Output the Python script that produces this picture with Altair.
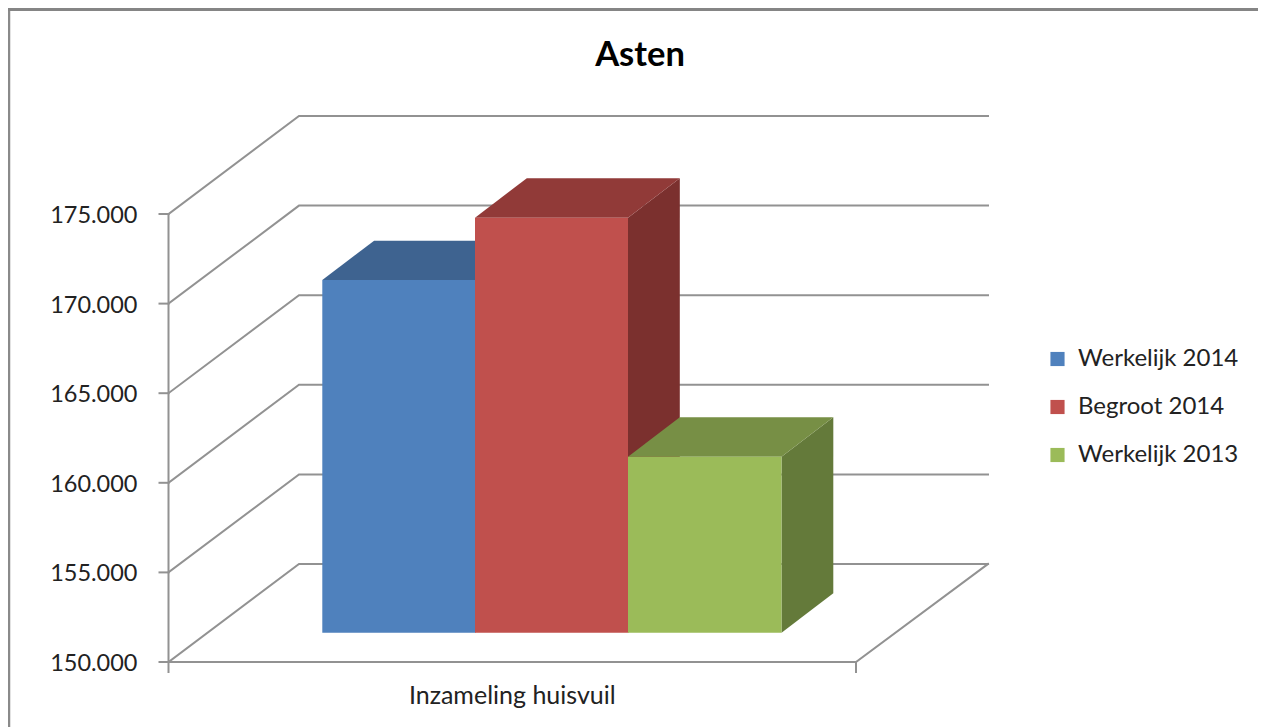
import altair as alt
import pandas as pd

# --- chart values ---
series = ["Werkelijk 2014", "Begroot 2014", "Werkelijk 2013"]
values = [169680, 173160, 159820]
colors_front = ["#4F81BD", "#C0504D", "#9BBB59"]
colors_top = ["#3E6390", "#913A38", "#778F45"]
colors_side = ["#34547A", "#7B302E", "#647A3A"]
tick_values = [150000, 155000, 160000, 165000, 170000, 175000]
tick_labels = ["150.000", "155.000", "160.000", "165.000", "170.000", "175.000"]
category = "Inzameling huisvuil"
title = "Asten"

# --- pseudo-3D projection, in data units ---
W, H = 1250, 719
PX_X, PX_Y = 687.5, 17.92 / 1000
X0, Y0 = 168.5, 662.0
x_dom = [(8 - X0) / PX_X, (8 + W - X0) / PX_X]
y_dom = [150000 - (8 + H - Y0) / PX_Y, 150000 + (Y0 - 8) / PX_Y]
wall_dx, wall_dy = 130.5 / PX_X, 98 / PX_Y
wall_end = (988 - X0) / PX_X
bar_edges = [(322.3 - X0) / PX_X, (475 - X0) / PX_X, (628 - X0) / PX_X, (781.5 - X0) / PX_X]
base_shift = 29.3 / PX_Y
bar_dx, bar_dy = 51.8 / PX_X, 39.4 / PX_Y
tick_len_x, tick_len_y = 9 / PX_X, 10 / PX_Y
FONT = "Lato"

xs = alt.Scale(domain=x_dom, nice=False, zero=False)
ys = alt.Scale(domain=y_dom, nice=False, zero=False)
X = lambda f="x": alt.X(f"{f}:Q", scale=xs, axis=None, title=None)
Y = lambda f="y": alt.Y(f"{f}:Q", scale=ys, axis=None, title=None)

# --- gridlines, floor and ticks ---
segs = []
def seg(name, pts):
    for i, (a, b) in enumerate(pts):
        segs.append({"id": name, "i": i, "x": a, "y": b})

for v in tick_values:
    seg(f"g{v}", [(0, v), (wall_dx, v + wall_dy), (wall_end, v + wall_dy)])
    seg(f"t{v}", [(-tick_len_x, v), (0, v)])
seg("axis", [(0, tick_values[0]), (0, tick_values[-1])])
seg("floor", [(0, tick_values[0]), (1, tick_values[0]), (wall_end, tick_values[0] + wall_dy)])
seg("b0", [(0, tick_values[0]), (0, tick_values[0] - tick_len_y)])
seg("b1", [(1, tick_values[0]), (1, tick_values[0] - tick_len_y)])

grid = alt.Chart(pd.DataFrame(segs)).mark_line(
    color="#929292", strokeWidth=2, strokeCap="square"
).encode(x=X(), y=Y(), detail="id:N", order="i:Q")

frame_l = alt.Chart(pd.DataFrame({"a": [0]})).mark_rule(color="#8A8A8A", strokeWidth=2.5).encode(
    x=alt.value(1), y=alt.value(0), y2=alt.value(H))
frame_t = alt.Chart(pd.DataFrame({"a": [0]})).mark_rule(color="#858585", strokeWidth=3).encode(
    y=alt.value(1.5), x=alt.value(0), x2=alt.value(W))

# --- bars ---
layers = [frame_l, frame_t, grid]
for i, (s, v) in enumerate(zip(series, values)):
    l, r = bar_edges[i], bar_edges[i + 1]
    base = tick_values[0] + base_shift
    top = v + base_shift
    top_face = pd.DataFrame({
        "x": [l, l + bar_dx, r, r + bar_dx],
        "y": [top, top + bar_dy, top + bar_dy, top + bar_dy],
        "y2": [top, top, top, top + bar_dy],
    })
    side_face = pd.DataFrame({
        "x": [r, r + bar_dx],
        "y": [top, top + bar_dy],
        "y2": [base, base + bar_dy],
    })
    front = pd.DataFrame({"x": [l], "x2": [r], "y": [base], "y2": [top], "serie": [s]})
    layers.append(alt.Chart(side_face).mark_area(color=colors_side[i], interpolate="linear").encode(
        x=X(), y=Y(), y2="y2:Q"))
    layers.append(alt.Chart(top_face).mark_area(color=colors_top[i], interpolate="linear").encode(
        x=X(), y=Y(), y2="y2:Q"))
    layers.append(alt.Chart(front).mark_rect().encode(
        x=X(), x2="x2:Q", y=Y(), y2="y2:Q",
        color=alt.Color("serie:N",
            scale=alt.Scale(domain=series, range=colors_front),
            legend=alt.Legend(
                title=None, orient="none", legendX=1037.5, legendY=339, padding=0,
                symbolType="square", symbolSize=200, symbolStrokeWidth=0,
                labelFont=FONT, labelFontSize=24, labelColor="#222222", labelOffset=8.5,
                rowPadding=24, labelLimit=300,
            )),
    ))

# --- text ---
tick_df = pd.DataFrame({"x": [0] * len(tick_values), "y": tick_values, "t": tick_labels})
tick_text = alt.Chart(tick_df).mark_text(
    font=FONT, fontSize=23.5, color="#222222", align="right", baseline="middle", dx=-31, dy=2
).encode(x=X(), y=Y(), text="t:N")

cat_df = pd.DataFrame({"x": [0.5], "y": [tick_values[0]], "t": [category]})
cat_text = alt.Chart(cat_df).mark_text(
    font=FONT, fontSize=25, color="#222222", align="center", baseline="middle", dy=34
).encode(x=X(), y=Y(), text="t:N")
layers += [tick_text, cat_text]

chart = alt.layer(*layers).resolve_scale(color="shared").properties(
    width=W, height=H, padding=0,
    autosize=alt.AutoSizeParams(type="none"),
    title=alt.TitleParams(title, font=FONT, fontSize=34.5, fontWeight="bold", color="#000000",
                          anchor="middle", dx=7, dy=67, offset=0),
).configure_view(stroke=None)

chart.save("out.html", embed_options={"renderer": "svg", "actions": False})
